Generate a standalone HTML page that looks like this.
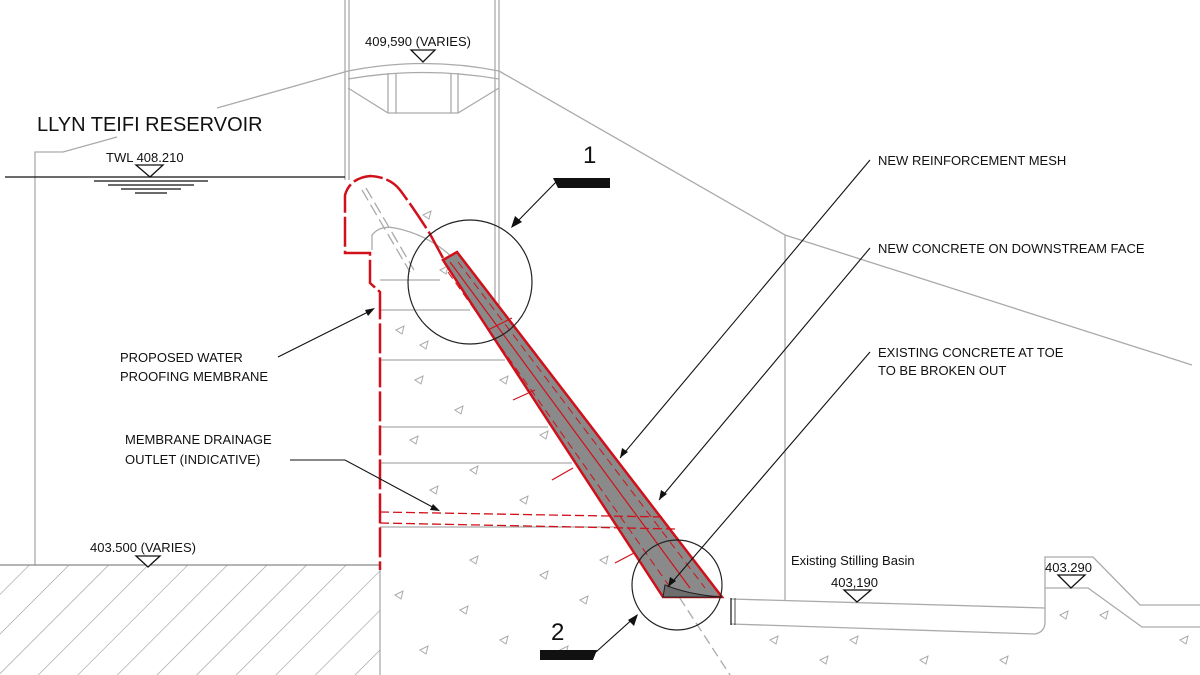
<!DOCTYPE html>
<html><head><meta charset="utf-8"><style>
html,body{margin:0;padding:0;background:#fff;}
svg{display:block;}
text{font-family:"Liberation Sans",Arial,sans-serif;fill:#111;}
</style></head><body>
<svg width="1200" height="675" viewBox="0 0 1200 675" xmlns="http://www.w3.org/2000/svg">
<defs>
<pattern id="hatch" width="28" height="28" patternUnits="userSpaceOnUse" patternTransform="rotate(45)">
<line x1="0" y1="0" x2="0" y2="28" stroke="#999" stroke-width="1.2"/>
</pattern>
</defs>
<g fill="none" stroke="#aaa" stroke-width="1.3">
<line x1="345" y1="0" x2="345" y2="180"/><line x1="349" y1="0" x2="349" y2="180"/>
<line x1="495" y1="0" x2="495" y2="320"/><line x1="499" y1="0" x2="499" y2="320"/>
<path d="M348 71 Q423 56 499 71"/><path d="M348 79 Q423 66 499 79"/>
<path d="M348 88 L388 113 L458 113 L499 88"/>
<line x1="388" y1="73" x2="388" y2="113"/><line x1="396" y1="73" x2="396" y2="113"/>
<line x1="451" y1="73" x2="451" y2="113"/><line x1="458" y1="73" x2="458" y2="113"/>
<path d="M35 565 L35 152 L63 152 L117 137"/>
<line x1="217" y1="108" x2="348" y2="71"/>
<path d="M499 71 L785 235 L1192 365"/>
<line x1="785" y1="235" x2="785" y2="600"/>
<line x1="380" y1="310" x2="470" y2="310"/>
<line x1="380" y1="360" x2="505" y2="360"/>
<line x1="380" y1="427" x2="548" y2="427"/>
<line x1="380" y1="463" x2="572" y2="463"/>
<line x1="380" y1="527" x2="615" y2="527"/>
<line x1="380" y1="565" x2="380" y2="675"/>
<path d="M372 250 L372 235 Q380 225 395 228 Q430 235 455 260"/>
<line x1="380" y1="280" x2="440" y2="280"/>
<path d="M731 599 L1045 608"/>
<path d="M731 624 L1035 634 Q1045 632 1045 622 L1045 557 L1093 557 L1140 605 L1200 605"/>
<path d="M1045 588 L1088 588 L1142 627 L1200 627"/>
<line x1="731" y1="598" x2="731" y2="625" stroke="#222"/>
<line x1="735" y1="598" x2="735" y2="625" stroke="#222" stroke-width="0.8"/>
<line x1="655" y1="560" x2="730" y2="675" stroke-dasharray="10 5"/>
<line x1="362" y1="190" x2="410" y2="272" stroke-dasharray="12 5"/>
<line x1="366" y1="188" x2="414" y2="270" stroke-dasharray="12 5"/>
</g>
<rect x="0" y="565" width="380" height="110" fill="url(#hatch)"/>
<line x1="0" y1="565" x2="380" y2="565" stroke="#888" stroke-width="1.2"/>
<g fill="none" stroke="#aaa" stroke-width="1">
<path d="M423 215 l8 -4 l-2 8z M440 270 l8 -4 l-2 8z M396 330 l8 -4 l-2 8z M420 345 l8 -4 l-2 8z M415 380 l8 -4 l-2 8z M455 410 l8 -4 l-2 8z M410 440 l8 -4 l-2 8z M470 470 l8 -4 l-2 8z M520 500 l8 -4 l-2 8z M430 490 l8 -4 l-2 8z M395 595 l8 -4 l-2 8z M460 610 l8 -4 l-2 8z M500 640 l8 -4 l-2 8z M420 650 l8 -4 l-2 8z M540 575 l8 -4 l-2 8z M580 600 l8 -4 l-2 8z M600 560 l8 -4 l-2 8z M470 560 l8 -4 l-2 8z M770 640 l8 -4 l-2 8z M820 660 l8 -4 l-2 8z M850 640 l8 -4 l-2 8z M920 660 l8 -4 l-2 8z M1100 615 l8 -4 l-2 8z M1180 640 l8 -4 l-2 8z M1060 615 l8 -4 l-2 8z M1000 660 l8 -4 l-2 8z M560 650 l8 -4 l-2 8z M500 380 l8 -4 l-2 8z M540 435 l8 -4 l-2 8z"/>
</g>
<polygon points="443,260 457,252 722,597 663,597" fill="#8a8a8a" stroke="#d0101a" stroke-width="2.5"/>
<line x1="450" y1="262" x2="690" y2="588" stroke="#d0101a" stroke-width="1.2"/>
<line x1="458" y1="262" x2="705" y2="588" stroke="#d0101a" stroke-width="1" stroke-dasharray="8 5"/>
<line x1="448" y1="272" x2="672" y2="590" stroke="#d0101a" stroke-width="1" stroke-dasharray="8 5"/>
<path d="M665 585 Q690 595 722 597 L663 597z" fill="#6d6d6d" stroke="#222" stroke-width="1"/>
<g stroke="#d0101a" stroke-width="1.2">
<line x1="512" y1="318" x2="488" y2="330"/><line x1="535" y1="390" x2="513" y2="400"/>
<line x1="573" y1="468" x2="552" y2="480"/><line x1="634" y1="553" x2="615" y2="563"/>
</g>
<g fill="none" stroke="#d0101a" stroke-width="2.5" stroke-dasharray="30 4">
<path d="M443 258 L430 234 Q415 210 400 190 Q390 177 370 176 Q350 178 345 195 L345 253 L370 253 L370 283 L380 292 L380 570"/>
</g>
<g stroke="#d0101a" stroke-width="1.3" stroke-dasharray="9 4" fill="none">
<line x1="380" y1="512" x2="665" y2="517"/><line x1="380" y1="523" x2="675" y2="529"/>
</g>
<circle cx="470" cy="282" r="62" fill="none" stroke="#222" stroke-width="1.2"/>
<circle cx="677" cy="585" r="45" fill="none" stroke="#222" stroke-width="1.2"/>
<line x1="5" y1="177" x2="345" y2="177" stroke="#111" stroke-width="1.2"/>
<g stroke="#111" stroke-width="1.3">
<line x1="94" y1="181" x2="208" y2="181"/><line x1="108" y1="185" x2="194" y2="185"/>
<line x1="121" y1="189" x2="181" y2="189"/><line x1="135" y1="193" x2="167" y2="193"/>
</g>
<g fill="#fff" stroke="#111" stroke-width="1.3">
<polygon points="136,165 163,165 150,177"/>
<polygon points="411,50 435,50 423,62"/>
<polygon points="136,556 160,556 148,567"/>
<polygon points="844,590 871,590 857,602"/>
<polygon points="1058,575 1085,575 1071,588"/>
</g>
<g stroke="#111" stroke-width="1.1" fill="none">
<line x1="870" y1="160" x2="620" y2="458"/>
<line x1="870" y1="248" x2="659" y2="500"/>
<line x1="870" y1="352" x2="668" y2="587"/>
<line x1="278" y1="357" x2="372" y2="310"/>
<path d="M290 460 L345 460 L438 510"/>
<path d="M558 180 L513 226"/>
<path d="M596 652 L636 616"/>
</g>
<g fill="#111">
<polygon points="620,458 622,448 628,452"/>
<polygon points="659,500 661,490 667,494"/>
<polygon points="668,587 670,577 676,581"/>
<polygon points="375,308 365,310 368,316"/>
<polygon points="440,511 430,510 433,504"/>
<polygon points="511,228 515,216 522,222"/>
<polygon points="638,614 634,626 628,620"/>
<polygon points="553,178 610,178 610,188 558,188 556,184"/>
<polygon points="540,650 597,650 593,660 540,660"/>
</g>
<text x="365" y="46" font-size="13">409,590 (VARIES)</text>
<text x="37" y="131" font-size="20">LLYN TEIFI RESERVOIR</text>
<text x="106" y="162" font-size="13">TWL 408.210</text>
<text x="583" y="163" font-size="24">1</text>
<text x="551" y="640" font-size="24">2</text>
<text x="878" y="165" font-size="13">NEW REINFORCEMENT MESH</text>
<text x="878" y="253" font-size="13">NEW CONCRETE ON DOWNSTREAM FACE</text>
<text x="878" y="357" font-size="13">EXISTING CONCRETE AT TOE</text>
<text x="878" y="375" font-size="13">TO BE BROKEN OUT</text>
<text x="120" y="362" font-size="13">PROPOSED WATER</text>
<text x="120" y="381" font-size="13">PROOFING MEMBRANE</text>
<text x="125" y="444" font-size="13">MEMBRANE DRAINAGE</text>
<text x="125" y="464" font-size="13">OUTLET (INDICATIVE)</text>
<text x="90" y="552" font-size="13">403.500 (VARIES)</text>
<text x="791" y="565" font-size="13">Existing Stilling Basin</text>
<text x="831" y="587" font-size="13">403,190</text>
<text x="1045" y="572" font-size="13">403.290</text>
</svg>
</body></html>
